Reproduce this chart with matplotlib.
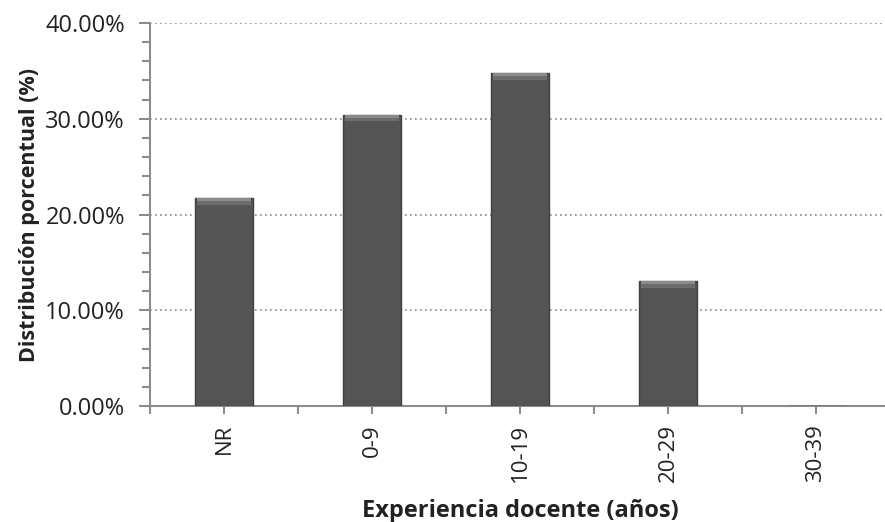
import matplotlib
matplotlib.use("Agg")
import matplotlib.pyplot as plt
from matplotlib.ticker import MultipleLocator, FuncFormatter, FixedLocator

categories = ["NR", "0-9", "10-19", "20-29", "30-39"]
values = [21.74, 30.43, 34.78, 13.04, 0.0]

plt.rcParams['font.family'] = ['Open Sans', 'DejaVu Sans']

fig = plt.figure(figsize=(8.85, 5.22), dpi=100)
ax = fig.add_axes([0.1695, 0.2222, 0.836, 0.7337])

x = list(range(len(categories)))
ax.bar(x, values, width=0.39, color="#545454", edgecolor="#404040", linewidth=1.0, zorder=3)
# bevel highlight at top of each bar
for xi, v in zip(x, values):
    if v > 0:
        ax.bar(xi, 0.7, bottom=v - 0.7, width=0.37, color="#6c6c6c", linewidth=0, zorder=4)
        ax.bar(xi, 0.3, bottom=v - 0.3, width=0.37, color="#8a8a8a", linewidth=0, zorder=5)

ax.set_xlim(-0.5, len(categories) - 0.5)
ax.set_ylim(0, 40)
ax.yaxis.set_major_locator(MultipleLocator(10))
ax.yaxis.set_minor_locator(MultipleLocator(2))
ax.yaxis.set_major_formatter(FuncFormatter(lambda v, p: f"{v:.2f}%"))
ax.grid(axis='y', which='major', linestyle=(0, (1, 2)), color="#8a8a8a", linewidth=1.2, zorder=0)

ax.set_xticks(x)
ax.set_xticklabels(categories, rotation=90)
ax.xaxis.set_minor_locator(FixedLocator([i - 0.5 for i in range(len(categories) + 1)]))

for s in ["top", "right"]:
    ax.spines[s].set_visible(False)
for s in ["left", "bottom"]:
    ax.spines[s].set_color("#8c8c8c")
    ax.spines[s].set_linewidth(1.5)

ax.tick_params(axis='y', which='major', length=8, width=1.5, color="#8c8c8c", labelsize=17, pad=10, labelcolor="#222222")
ax.tick_params(axis='y', which='minor', length=6, width=1.5, color="#8c8c8c")
ax.tick_params(axis='x', which='both', length=6, width=1.5, color="#8c8c8c", labelsize=16, pad=7, labelcolor="#222222")

ax.set_ylabel("Distribución porcentual (%)", fontsize=15.5, fontweight='bold', labelpad=4, color="#222222")
ax.set_xlabel("Experiencia docente (años)", fontsize=17, fontweight='bold', labelpad=12, color="#222222")

fig.savefig("out.png", dpi=100)
